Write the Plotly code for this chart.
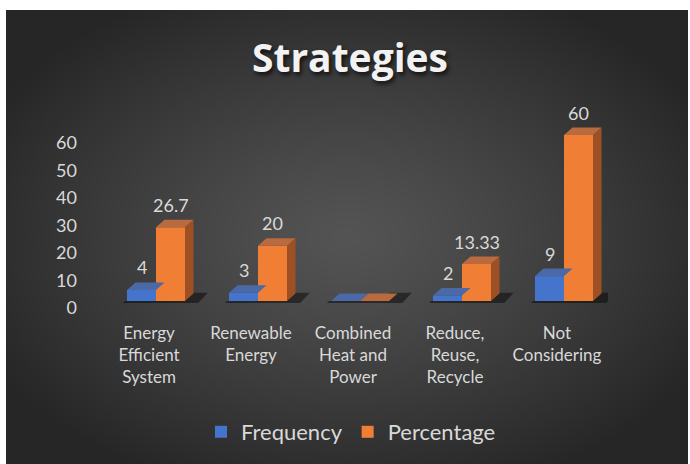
import base64, struct, zlib
import numpy as np
import plotly.graph_objects as go

# ---------------- data ----------------
categories = ["Energy<br>Efficient<br>System", "Renewable<br>Energy", "Combined<br>Heat and<br>Power",
              "Reduce,<br>Reuse,<br>Recycle", "Not<br>Considering"]
frequency = [4, 3, 0, 2, 9]
percentage = [26.7, 20, 0, 13.33, 60]
freq_labels = ["4", "3", "", "2", "9"]
pct_labels = ["26.7", "20", "", "13.33", "60"]
y_ticks = [0, 10, 20, 30, 40, 50, 60]

# ---------------- layout geometry (pixels) ----------------
W, H = 690, 464
L, R, T, B = 98, 608, 100, 318
ZERO_PX = 301                     # front-face base
SCALE = 166 / 60                  # px per unit
TICK_ZERO_PX = 308
TICK_SCALE = 165 / 60
XPX = (R - L) / 5.0               # px per category

yr = [-(B - ZERO_PX) / SCALE, (ZERO_PX - T) / SCALE]
bw = 29 / XPX                     # bar width (category units)
shift = 7 / XPX                   # pair shift to the right
ddx = 8.5 / XPX                   # 3D depth offset x
ddy = 7.5 / SCALE                 # 3D depth offset y

xs = list(range(len(categories)))
blue_off = shift - bw
orange_off = shift

BLUE = "#4474cc"
ORANGE = "#f07f35"
BLUE_TOP = "#4a69a6"
ORANGE_TOP = "#b96a3e"
ORANGE_SIDE = "#9d5024"
TXT = "#d9d9d9"

# ---------------- background gradient image ----------------
def png_uri(arr):
    h, w, _ = arr.shape
    raw = b"".join(b"\x00" + arr[i].tobytes() for i in range(h))
    def chunk(t, d):
        c = struct.pack(">I", len(d)) + t + d
        return c + struct.pack(">I", zlib.crc32(t + d) & 0xffffffff)
    png = b"\x89PNG\r\n\x1a\n" + chunk(b"IHDR", struct.pack(">IIBBBBB", w, h, 8, 2, 0, 0, 0)) \
        + chunk(b"IDAT", zlib.compress(raw, 9)) + chunk(b"IEND", b"")
    return "data:image/png;base64," + base64.b64encode(png).decode()

gw, gh = 341, 227
u = (np.arange(gw) + 0.5) / gw
v = (np.arange(gh) + 0.5) / gh
U, V = np.meshgrid(u, v)
r = np.sqrt(((U - 0.5) / 0.5) ** 2 + ((V - 0.5) / 0.5) ** 2)
c = 84 - 46 * np.clip(r / 1.2, 0, 1) ** 1.2
img = np.repeat(np.clip(c, 0, 255).astype(np.uint8)[:, :, None], 3, axis=2)
bg_uri = png_uri(img)

# ---------------- figure ----------------
fig = go.Figure()

def polys(vals, kind):
    px, py = [], []
    for i, val in zip(xs, vals):
        xb0 = i + blue_off
        xo0 = i + orange_off
        xo1 = xo0 + bw
        if kind == "top_b":
            x0, x1 = xb0, xb0 + bw
            pts = [(x0, val), (x1, val), (x1 + ddx, val + ddy), (x0 + ddx, val + ddy)]
        elif kind == "top_o":
            x0, x1 = xo0, xo1
            pts = [(x0, val), (x1, val), (x1 + ddx, val + ddy), (x0 + ddx, val + ddy)]
        elif kind == "side_o":
            pts = [(xo1, 0), (xo1, val), (xo1 + ddx, val + ddy), (xo1 + ddx, ddy)]
        else:  # floor shadow, kept clear of the front faces
            pts = [(xb0 - 0.04, -0.7), (xo1 + 0.13, -0.7), (xo1 + ddx + 0.14, ddy + 0.3),
                   (xo1, ddy + 0.3), (xo1, 0), (xb0 - 0.02, 0)]
        for p in pts + [pts[0]]:
            px.append(p[0]); py.append(p[1])
        px.append(None); py.append(None)
    return px, py

def poly(vals, kind, color):
    px, py = polys(vals, kind)
    fig.add_trace(go.Scatter(x=px, y=py, mode="lines", fill="toself", fillcolor=color,
                             line=dict(width=0, color=color),
                             hoverinfo="skip", showlegend=False))

# front faces (bars)
fig.add_trace(go.Bar(x=xs, y=frequency, width=bw, offset=blue_off, name="Frequency",
                     marker=dict(color=BLUE, line=dict(width=0)), hoverinfo="skip"))
fig.add_trace(go.Bar(x=xs, y=percentage, width=bw, offset=orange_off, name="Percentage",
                     marker=dict(color=ORANGE, line=dict(width=0)), hoverinfo="skip"))
# shadow and 3D faces
poly(percentage, "shadow", "rgba(0,0,0,0.45)")
poly(frequency, "top_b", BLUE_TOP)
poly(percentage, "side_o", ORANGE_SIDE)
poly(percentage, "top_o", ORANGE_TOP)

# data labels
annots = []
for vals, labs, off in ((frequency, freq_labels, blue_off), (percentage, pct_labels, orange_off)):
    for i, val, lab in zip(xs, vals, labs):
        if lab:
            annots.append(dict(x=i + off + bw / 2, y=val, text=lab, showarrow=False,
                               yshift=22.5, yanchor="middle", xanchor="center",
                               font=dict(size=18, color=TXT, family="Lato")))

tickpos = [((ZERO_PX - TICK_ZERO_PX) + t * TICK_SCALE) / SCALE for t in y_ticks]

fig.update_layout(
    width=W, height=H,
    margin=dict(l=L, r=W - R, t=T, b=H - B, pad=0),
    paper_bgcolor="white", plot_bgcolor="rgba(0,0,0,0)",
    barmode="overlay",
    font=dict(family="Lato", color=TXT, size=18),
    title=dict(text="<b>Strategies</b>", x=350 / W, xanchor="center", xref="container",
               y=1 - 58 / H, yanchor="middle", yref="container",
               font=dict(size=39, color="#f2f2f2", family="Open Sans",
                         shadow="2px 3px 4px rgba(0,0,0,0.7)")),
    xaxis=dict(range=[-0.5, 4.5], tickmode="array", tickvals=xs, ticktext=categories,
               showgrid=False, zeroline=False, showline=False, ticks="",
               tickfont=dict(size=17, color=TXT), ticklabelstandoff=3, fixedrange=True),
    yaxis=dict(range=yr, tickmode="array", tickvals=tickpos, ticktext=[str(t) for t in y_ticks],
               showgrid=False, zeroline=False, showline=False, ticks="",
               tickfont=dict(size=18, color=TXT), ticklabelstandoff=20, fixedrange=True),
    legend=dict(orientation="h", xref="container", yref="container", x=351 / W, xanchor="center",
                y=1 - 432 / H, yanchor="middle", font=dict(size=22, color=TXT),
                bgcolor="rgba(0,0,0,0)"),
    annotations=annots,
    images=[dict(source=bg_uri, xref="paper", yref="paper",
                 x=(6 - L) / (R - L), y=(B - 10) / (B - T),
                 sizex=682 / (R - L), sizey=454 / (B - T),
                 xanchor="left", yanchor="top", sizing="stretch", layer="below")],
)

fig.write_html("out.html", config={"displayModeBar": False},
               post_script="document.body.style.margin='0';document.body.style.padding='0';")
